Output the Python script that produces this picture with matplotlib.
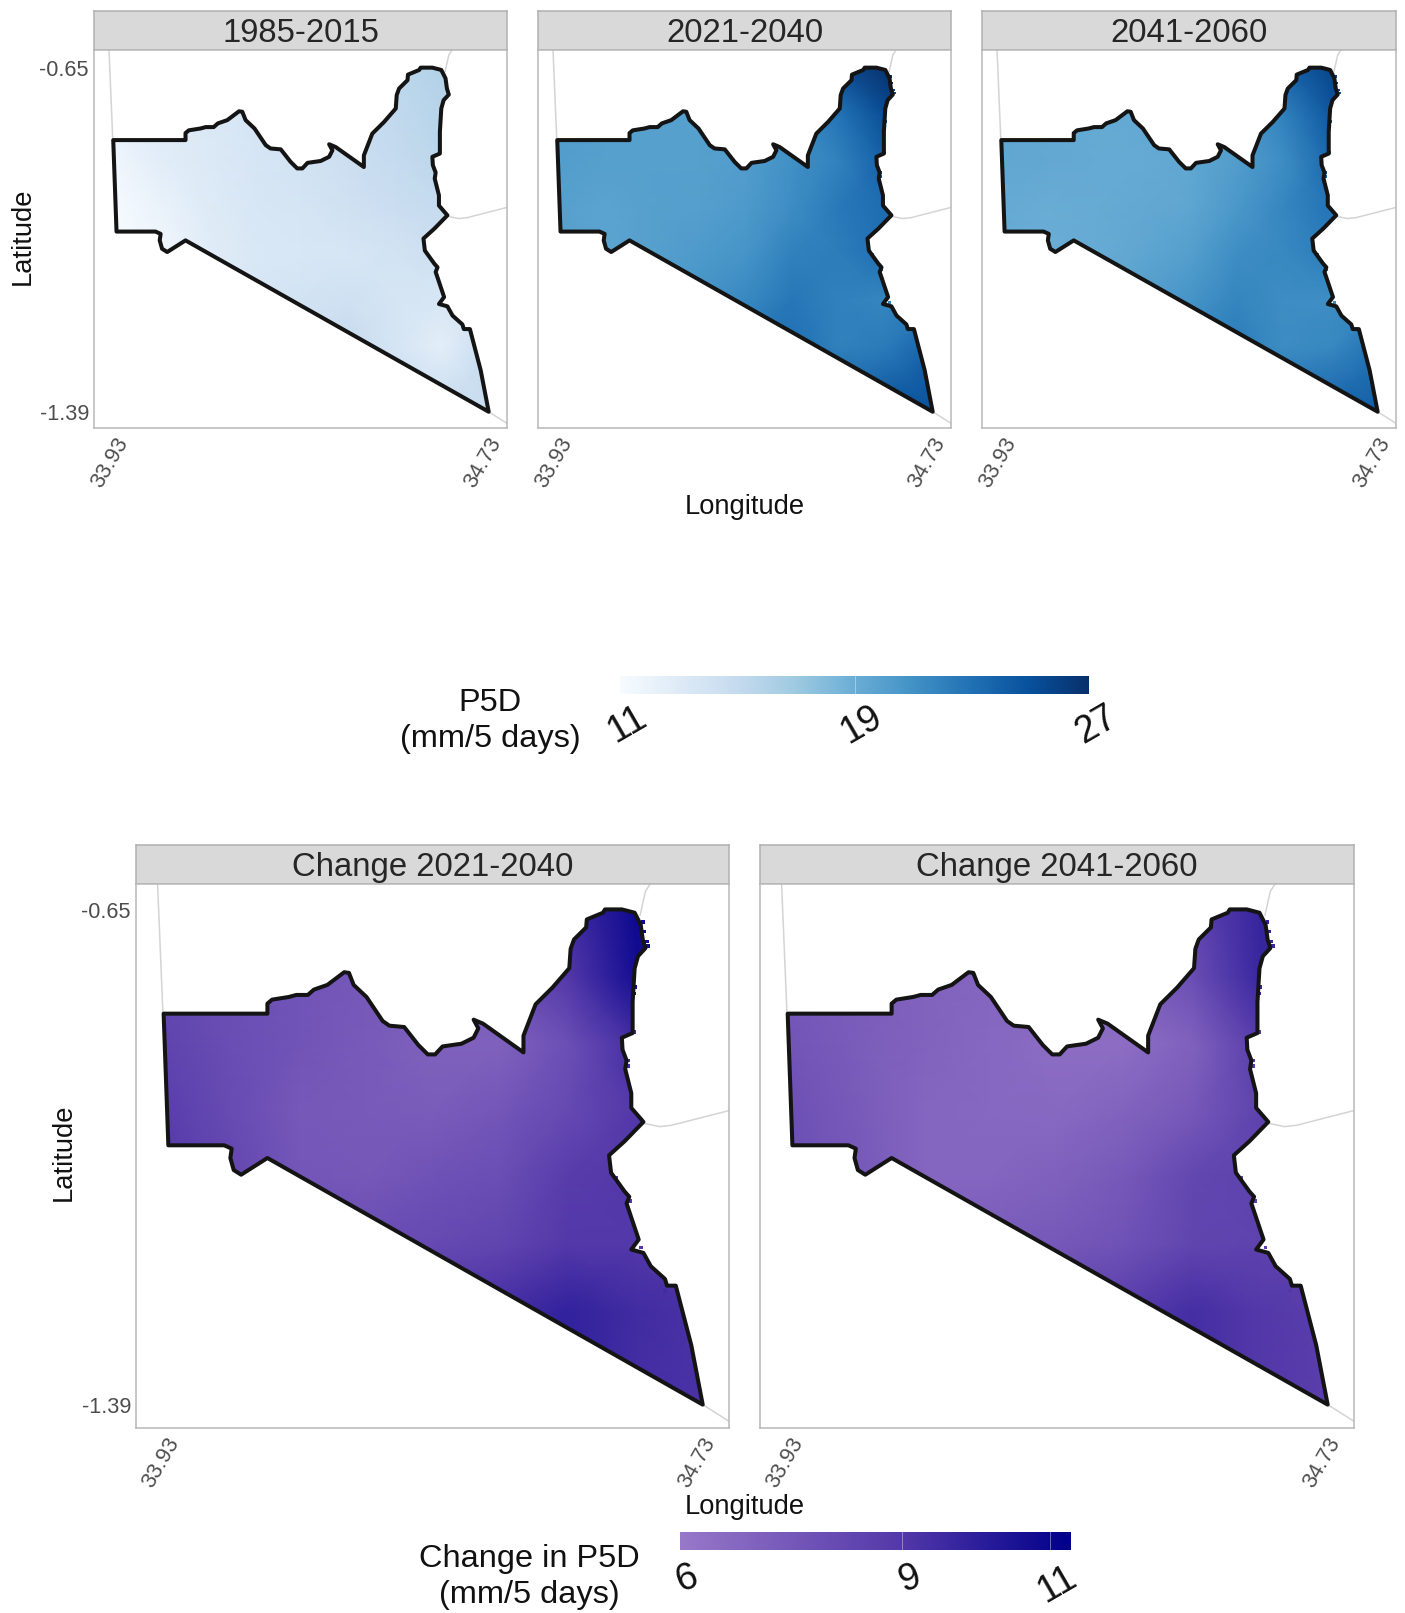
import numpy as np
import matplotlib
matplotlib.use("Agg")
import matplotlib.pyplot as plt
from matplotlib.colors import LinearSegmentedColormap, Normalize
from matplotlib.patches import Polygon
from matplotlib.transforms import ScaledTranslation

plt.rcParams['font.family'] = ['Liberation Sans', 'DejaVu Sans']

# ---- data -------------------------------------------------------------
boundary_lon = [33.930, 34.084, 34.084, 34.091, 34.116, 34.127, 34.144, 34.153, 34.173, 34.198,
                34.205, 34.212, 34.231, 34.255, 34.265, 34.287, 34.308, 34.322, 34.333, 34.344,
                34.372, 34.390, 34.397, 34.390, 34.404, 34.464, 34.464, 34.482, 34.496, 34.507,
                34.532, 34.534, 34.539, 34.557, 34.558, 34.582, 34.585, 34.610, 34.629, 34.638,
                34.641, 34.645, 34.634, 34.629, 34.626, 34.626, 34.610, 34.611, 34.617, 34.615,
                34.624, 34.624, 34.642, 34.614, 34.591, 34.594, 34.614, 34.621, 34.617, 34.628,
                34.635, 34.624, 34.642, 34.653, 34.674, 34.677, 34.690, 34.713, 34.730, 34.084,
                34.045, 34.034, 34.029, 34.031, 34.020, 33.937]
boundary_lat = [-0.805, -0.805, -0.790, -0.784, -0.780, -0.777, -0.777, -0.769, -0.762, -0.743,
                -0.744, -0.762, -0.780, -0.816, -0.823, -0.825, -0.852, -0.866, -0.866, -0.854,
                -0.850, -0.841, -0.827, -0.814, -0.820, -0.863, -0.838, -0.791, -0.777, -0.766,
                -0.737, -0.708, -0.694, -0.676, -0.664, -0.654, -0.649, -0.649, -0.654, -0.672,
                -0.694, -0.707, -0.719, -0.737, -0.787, -0.834, -0.841, -0.859, -0.875, -0.888,
                -0.924, -0.946, -0.967, -0.996, -1.017, -1.043, -1.071, -1.079, -1.089, -1.122,
                -1.143, -1.158, -1.163, -1.183, -1.202, -1.212, -1.212, -1.301, -1.390, -1.021,
                -1.046, -1.039, -1.021, -1.007, -1.002, -1.002]

neighbour_lines = [
    ([33.921, 33.929], [-0.611, -0.805]),
    ([34.652, 34.645, 34.637], [-0.611, -0.622, -0.658]),
    ([34.642, 34.666, 34.684, 34.769], [-0.969, -0.974, -0.972, -0.950]),
    ([34.730, 34.769], [-1.390, -1.415]),
]

speck_lon = [34.641, 34.643, 34.647, 34.649, 34.630, 34.629, 34.629, 34.620, 34.619, 34.627,
             34.602, 34.622, 34.638, 34.656, 34.674, 34.698, 34.707, 34.713, 34.724]
speck_lat = [-0.668, -0.682, -0.697, -0.704, -0.765, -0.775, -0.832, -0.875, -0.883, -0.950,
             -1.050, -1.085, -1.155, -1.190, -1.220, -1.250, -1.300, -1.325, -1.365]

grid_lon = [33.92, 34.03, 34.13, 34.23, 34.33, 34.43, 34.53, 34.63, 34.74]
grid_lat = [-0.64, -0.75, -0.85, -0.95, -1.05, -1.15, -1.25, -1.40]

p5d_1985_2015 = [
    [12.5, 13.0, 13.5, 14.0, 14.5, 15.0, 15.5, 16.0, 16.0],
    [12.3, 13.0, 13.3, 13.7, 14.2, 14.7, 15.2, 15.8, 15.8],
    [11.5, 12.7, 13.2, 13.6, 14.0, 14.5, 15.0, 15.5, 15.5],
    [11.0, 12.0, 13.0, 13.5, 13.8, 14.2, 14.6, 15.0, 15.0],
    [11.0, 11.5, 12.8, 13.4, 13.5, 13.6, 14.0, 14.5, 14.5],
    [11.0, 11.5, 12.8, 13.5, 14.0, 14.3, 13.7, 13.5, 13.5],
    [13.0, 13.0, 13.5, 14.0, 14.5, 15.0, 13.8, 12.6, 15.0],
    [15.0, 15.0, 15.0, 15.0, 15.0, 15.0, 15.0, 15.0, 15.0],
]
p5d_2021_2040 = [
    [20.0, 20.0, 20.0, 20.0, 20.5, 21.0, 25.5, 27.0, 27.0],
    [20.2, 20.0, 19.9, 20.0, 20.3, 21.0, 22.8, 25.2, 25.5],
    [20.2, 20.0, 20.0, 20.0, 20.2, 21.0, 22.0, 24.0, 24.5],
    [20.0, 19.8, 20.0, 20.1, 20.4, 21.3, 22.5, 23.3, 23.5],
    [20.0, 19.7, 20.0, 20.4, 20.8, 22.0, 22.3, 23.0, 23.0],
    [20.0, 19.8, 20.0, 20.8, 21.5, 22.6, 22.0, 21.8, 22.0],
    [20.5, 20.5, 21.0, 21.5, 23.0, 23.0, 22.0, 22.4, 24.0],
    [22.0, 22.0, 22.0, 22.0, 23.5, 24.0, 24.0, 25.0, 25.0],
]
p5d_2041_2060 = [
    [19.5, 19.4, 19.4, 19.5, 19.8, 20.5, 24.0, 25.8, 25.8],
    [19.6, 19.4, 19.3, 19.4, 19.6, 20.3, 22.0, 24.5, 24.8],
    [19.5, 19.4, 19.3, 19.3, 19.5, 20.2, 21.3, 23.5, 24.0],
    [19.3, 19.1, 19.2, 19.4, 19.6, 20.5, 21.7, 22.8, 23.0],
    [19.2, 19.0, 19.2, 19.6, 20.1, 21.2, 21.6, 22.3, 22.5],
    [19.3, 19.1, 19.4, 20.1, 20.8, 21.8, 21.2, 21.2, 21.2],
    [19.8, 19.8, 20.2, 20.8, 22.0, 22.3, 21.3, 21.6, 23.0],
    [21.0, 21.0, 21.0, 21.0, 22.8, 23.0, 23.5, 24.0, 24.3],
]
change_2021_2040 = [
    [8.3, 8.0, 7.8, 7.7, 7.7, 8.0, 9.5, 10.9, 11.2],
    [8.2, 8.0, 7.7, 7.5, 7.5, 7.7, 9.0, 10.7, 11.0],
    [8.5, 8.0, 7.7, 7.4, 7.1, 7.1, 7.9, 9.4, 10.0],
    [8.8, 8.1, 7.5, 7.4, 7.3, 7.6, 8.2, 9.0, 9.5],
    [9.0, 8.3, 7.6, 7.5, 7.8, 8.0, 8.8, 9.0, 9.2],
    [9.0, 8.6, 8.2, 8.0, 8.2, 8.4, 9.0, 9.0, 9.0],
    [9.0, 9.0, 9.0, 9.0, 9.0, 9.4, 9.9, 9.5, 9.2],
    [9.5, 9.5, 9.5, 9.5, 9.5, 9.9, 9.9, 9.4, 9.2],
]
change_2041_2060 = [
    [7.6, 7.4, 7.2, 7.1, 7.1, 7.3, 8.5, 9.8, 10.2],
    [7.5, 7.3, 7.0, 6.9, 6.9, 7.0, 8.0, 9.7, 10.0],
    [7.7, 7.3, 7.0, 6.8, 6.5, 6.5, 7.1, 8.8, 9.4],
    [7.9, 7.4, 6.9, 6.8, 6.7, 7.0, 7.5, 8.5, 9.0],
    [8.0, 7.5, 6.9, 6.9, 7.1, 7.5, 8.3, 8.5, 8.7],
    [8.0, 7.8, 7.4, 7.3, 7.5, 7.8, 8.4, 8.5, 8.5],
    [8.2, 8.2, 8.2, 8.2, 8.4, 8.8, 9.4, 9.0, 8.7],
    [9.0, 9.0, 9.0, 9.0, 9.0, 9.4, 9.4, 9.0, 8.7],
]

top_titles = ['1985-2015', '2021-2040', '2041-2060']
bottom_titles = ['Change 2021-2040', 'Change 2041-2060']
lon_ticks = [33.93, 34.73]
lat_ticks = [-1.39, -0.65]
p5d_ticks = [11, 19, 27]
change_ticks = [6, 9, 11]

# ---- styling ----------------------------------------------------------
W, H = 1405, 1613
fig = plt.figure(figsize=(W / 100, H / 100), dpi=100, facecolor='white')
change_cmap = LinearSegmentedColormap.from_list(
    'change', [(0, '#9878c9'), (3 / 5.28, '#5338a9'), (1, '#00008b')])
p5d_norm = Normalize(11, 27)
change_norm = Normalize(6, 11.28)


def axes_px(x0, y0, x1, y1, **kw):
    return fig.add_axes([x0 / W, 1 - y1 / H, (x1 - x0) / W, (y1 - y0) / H], **kw)


def px_text(x, y, s, **kw):
    fig.text(x / W, 1 - y / H, s, ha='center', va='center', **kw)


def offset(dx, dy=0):
    return ScaledTranslation(dx / 100, dy / 100, fig.dpi_scale_trans)


def panel(x0, y0, x1, y1, strip_top, title, field, cmap, norm, show_y, speck_size):
    strip = axes_px(x0, strip_top, x1, y0)
    strip.set_xticks([]); strip.set_yticks([])
    strip.set_facecolor('#d9d9d9')
    for s in strip.spines.values():
        s.set_color('#b0b0b0'); s.set_linewidth(1.1)
    strip.text(0.5, 0.43, title, transform=strip.transAxes, ha='center', va='center',
               fontsize=23.7, color='#262626')

    ax = axes_px(x0, y0, x1, y1)
    ax.set_xlim(33.889, 34.769)
    ax.set_ylim(-1.425, -0.611)
    for s in ax.spines.values():
        s.set_color('#b8b8b8'); s.set_linewidth(1.1)
    for lx, ly in neighbour_lines:
        ax.plot(lx, ly, color='#d4d4d4', lw=1.1, zorder=1, solid_capstyle='round')
    values = np.array(field)
    mesh = ax.pcolormesh(grid_lon, grid_lat, values, cmap=cmap, norm=norm,
                         shading='gouraud', zorder=2, rasterized=True)
    outline = Polygon(np.column_stack([boundary_lon, boundary_lat]), closed=True, fill=False,
                      edgecolor='#141414', lw=2.9, joinstyle='round', zorder=3)
    ax.add_patch(outline)
    mesh.set_clip_path(outline)

    if speck_size:
        rows = [np.abs(np.array(grid_lat) - v).argmin() for v in speck_lat]
        cols = [np.abs(np.array(grid_lon) - v).argmin() for v in speck_lon]
        ax.scatter(speck_lon, speck_lat, c=values[rows, cols], cmap=cmap, norm=norm, marker='s',
                   s=speck_size, linewidths=0, zorder=2.5)

    ax.set_xticks(lon_ticks, [f'{v:.2f}' for v in lon_ticks])
    ax.tick_params(axis='x', length=0, pad=4.5, labelsize=15.6, labelcolor='#4d4d4d')
    for lab, dx in zip(ax.get_xticklabels(), (-3, -6)):
        lab.set_rotation(60)
        lab.set_ha('center')
        lab.set_va('top')
        lab.set_transform(lab.get_transform() + offset(dx))
    if show_y:
        ax.set_yticks(lat_ticks, [f'{v:.2f}' for v in lat_ticks])
        ax.tick_params(axis='y', length=0, pad=3.6, labelsize=15.6, labelcolor='#4d4d4d')
        for lab in ax.get_yticklabels():
            lab.set_transform(lab.get_transform() + offset(0, 0))
    else:
        ax.set_yticks([])
    return ax


top_fields = [p5d_1985_2015, p5d_2021_2040, p5d_2041_2060]
top_x = [(94, 507), (538, 951), (982, 1396)]
for i, ((x0, x1), t, f) in enumerate(zip(top_x, top_titles, top_fields)):
    panel(x0, 50, x1, 428, 11, t, f, 'Blues', p5d_norm, i == 0, 0 if i == 0 else 3)

bottom_fields = [change_2021_2040, change_2041_2060]
bottom_x = [(136, 729), (760, 1354)]
for i, ((x0, x1), t, f) in enumerate(zip(bottom_x, bottom_titles, bottom_fields)):
    panel(x0, 884, x1, 1428, 845, t, f, change_cmap, change_norm, i == 0, 7)

px_text(745, 507, 'Longitude', fontsize=19.7, color='#111111')
px_text(745, 1507, 'Longitude', fontsize=19.7, color='#111111')
px_text(23, 236, 'Latitude', fontsize=19.7, color='#111111', rotation=90)
px_text(64, 1152, 'Latitude', fontsize=19.7, color='#111111', rotation=90)


def colorbar(x0, y0, x1, y1, cmap, norm, ticks, rot, dy):
    ax = axes_px(x0, y0, x1, y1)
    vals = np.linspace(norm.vmin, norm.vmax, 256)[None, :]
    ax.imshow(vals, cmap=cmap, norm=norm, aspect='auto',
              extent=(norm.vmin, norm.vmax, 0, 1), interpolation='bilinear')
    ax.set_yticks([])
    ax.set_xticks(ticks, [str(t) for t in ticks])
    ax.tick_params(axis='x', length=0, pad=5, labelsize=27, labelcolor='#111111')
    for lab, r in zip(ax.get_xticklabels(), rot):
        lab.set_rotation(r)
        lab.set_ha('center')
        lab.set_va('top')
        lab.set_transform(lab.get_transform() + offset(7, dy))
    for t in ticks:
        if norm.vmin < t < norm.vmax:
            ax.axvline(t, color='white', lw=0.6, alpha=0.45)
    for s in ax.spines.values():
        s.set_visible(False)


colorbar(620, 676, 1089, 694, 'Blues', p5d_norm, p5d_ticks, [30, 30, 30], 2)
colorbar(680, 1532, 1071, 1550, change_cmap, change_norm, change_ticks, [20, 20, 30], -2)

px_text(490, 703, 'P5D', fontsize=23.4, color='#111111')
px_text(490, 739, '(mm/5 days)', fontsize=23.4, color='#111111')
px_text(529, 1559, 'Change in P5D', fontsize=23.4, color='#111111')
px_text(529, 1595, '(mm/5 days)', fontsize=23.4, color='#111111')

fig.savefig('out.png', dpi=100, facecolor='white')
